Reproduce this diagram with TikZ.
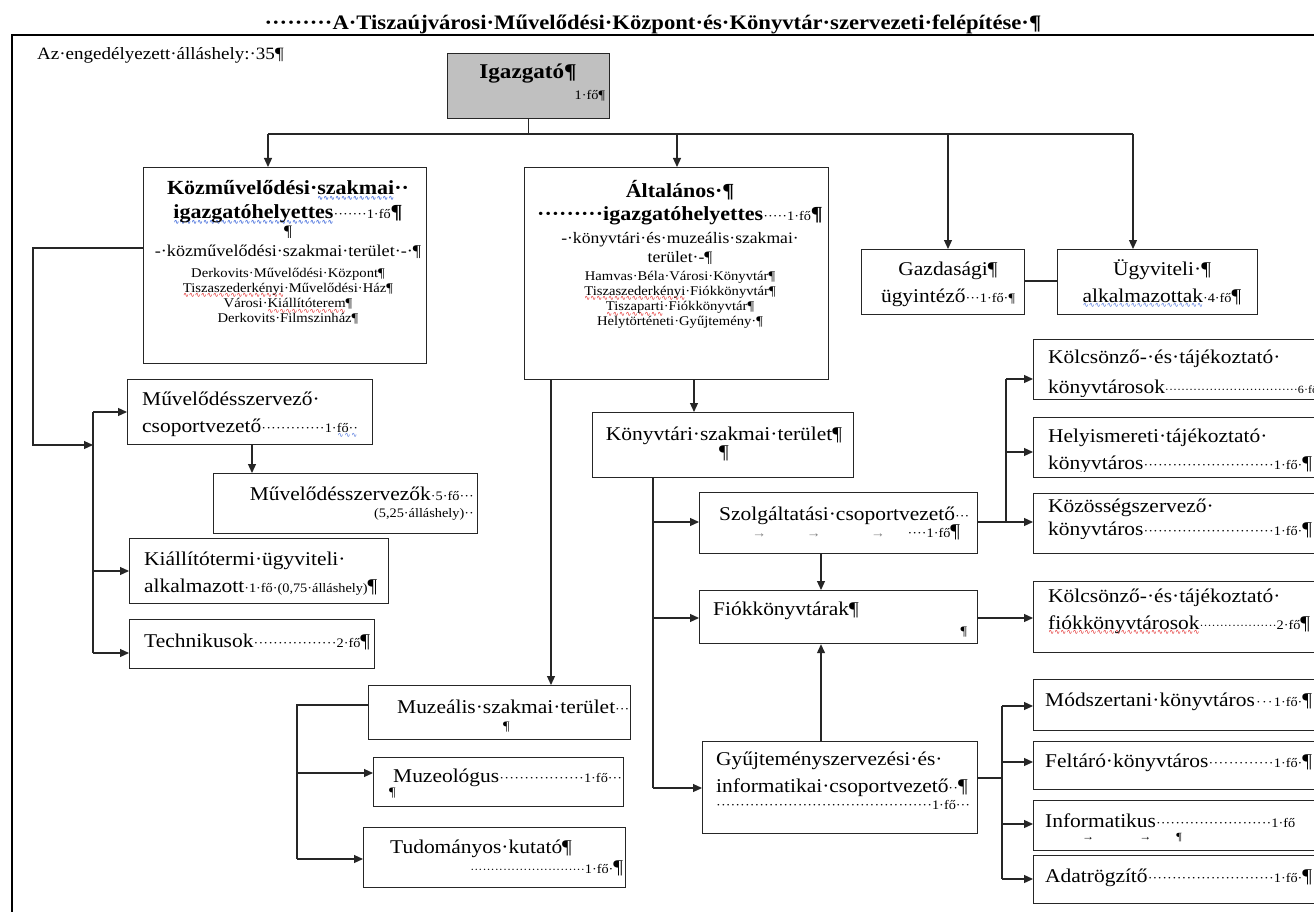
\documentclass[tikz,border=0pt]{standalone}
\usepackage{fontspec}
\setmainfont{Liberation Serif}[FakeStretch=1.1]
\newfontfamily\wavefont{DejaVu Sans}
\usetikzlibrary{arrows.meta}
\setlength\parindent{0pt}
\definecolor{wblue}{RGB}{70,110,220}
\definecolor{wred}{RGB}{225,30,30}
\definecolor{boxgray}{RGB}{192,192,192}
\newcommand\wv[2]{\leavevmode\setbox0\hbox{#2}\rlap{\smash{\lower5.5pt\hbox to\wd0{\color{#1}\wavefont\fontsize{7}{7}\selectfont\xleaders\hbox{∿}\hfil}}}\box0}
\newcommand\fTitle{\fontsize{20.6}{26}\selectfont\bfseries}
\newcommand\fHead{\fontsize{20}{24}\selectfont\bfseries}
\newcommand\fBody{\fontsize{19.5}{27}\selectfont}
\newcommand\fNote{\fontsize{17.3}{20}\selectfont}
\newcommand\fList{\fontsize{13.3}{15.3}\selectfont}
\newcommand\fSm{\fontsize{13}{17}\selectfont}
\newcommand\fTiny{\fontsize{11}{13}\selectfont}
\newcommand\dotlead{\leavevmode\xleaders\hbox{\fSm·}\hfill}
\newcommand\tinylead{\leavevmode\xleaders\hbox{\fTiny·}\hfill}
\begin{document}
\begin{tikzpicture}[x=1pt,y=-1pt,
  box/.style={draw=black!85, line width=1.2pt, inner sep=0pt, anchor=north west},
  tc/.style={inner sep=0pt, anchor=base, align=center, font=\fBody},
  tl/.style={inner sep=0pt, anchor=base west, align=left, font=\fBody},
  tr/.style={inner sep=0pt, anchor=base east, align=right, font=\fBody},
  ln/.style={line width=1.2pt, draw=black!85},
  arr/.style={ln, -{Triangle[length=9pt,width=8pt]}}]
\useasboundingbox (0,0) rectangle (1314,912);
\clip (0,0) rectangle (1314,912);
\fill[white] (0,0) rectangle (1314,912);

% frame and title
\coordinate (frBL) at (12,930);
\coordinate (frTL) at (12,35);
\coordinate (frTR) at (1330,35);
\draw[line width=1.5pt] (frBL) -- (frTL) -- (frTR);
\node[anchor=base, inner sep=0pt, font=\fTitle] (title) at (653,30) {·········A·Tiszaújvárosi·Művelődési·Központ·és·Könyvtár·szervezeti·felépítése·¶};
\node[tl, font=\fNote] (note) at (37,60) {Az·engedélyezett·álláshely:·35¶};

% boxes
\node[box, fill=boxgray, minimum width=162pt, minimum height=65pt] (igaz) at (447,53) {};
\node[box, minimum width=283pt, minimum height=196pt] (kozm) at (143,167) {};
\node[box, minimum width=304pt, minimum height=212pt] (alt) at (524,167) {};
\node[box, minimum width=163pt, minimum height=65pt] (gazd) at (861,249) {};
\node[box, minimum width=200pt, minimum height=65pt] (ugyv) at (1057,249) {};
\node[box, minimum width=245pt, minimum height=65pt] (mszcs) at (127,379) {};
\node[box, minimum width=264pt, minimum height=60pt] (msz) at (213,473) {};
\node[box, minimum width=259pt, minimum height=65pt] (kiall) at (129,538) {};
\node[box, minimum width=245pt, minimum height=49pt] (tech) at (129,619) {};
\node[box, minimum width=261pt, minimum height=65pt] (kszt) at (592,412) {};
\node[box, minimum width=278pt, minimum height=61pt] (szolg) at (699,492) {};
\node[box, minimum width=278pt, minimum height=53pt] (fiok) at (699,590) {};
\node[box, minimum width=287pt, minimum height=60pt] (kolcs) at (1033,339) {};
\node[box, minimum width=287pt, minimum height=60pt] (helyi) at (1033,417) {};
\node[box, minimum width=287pt, minimum height=60pt] (kozos) at (1033,493) {};
\node[box, minimum width=287pt, minimum height=71pt] (kfiok) at (1033,581) {};
\node[box, minimum width=262pt, minimum height=54pt] (muz) at (368,685) {};
\node[box, minimum width=250pt, minimum height=49pt] (muzeo) at (373,757) {};
\node[box, minimum width=262pt, minimum height=60pt] (tud) at (363,827) {};
\node[box, minimum width=275pt, minimum height=92pt] (gyuj) at (702,741) {};
\node[box, minimum width=287pt, minimum height=51pt] (modsz) at (1033,679) {};
\node[box, minimum width=287pt, minimum height=48pt] (feltar) at (1033,741) {};
\node[box, minimum width=287pt, minimum height=50pt] (inform) at (1033,800) {};
\node[box, minimum width=287pt, minimum height=48pt] (adat) at (1033,855) {};

% texts
\node[tc, text width=154pt, font=\fHead] (igazT) at (528,79) {\fontsize{21}{24}\selectfont Igazgató¶\\[-3pt] \hfill{\mdseries\fSm 1·fő¶}};
\node[tc, text width=270pt, font=\fHead] (kozmT) at (288,195) {Közművelődési·\wv{wblue}{szakmai}··\\ \wv{wblue}{igazgatóhelyettes}{\mdseries\fSm ·······1·fő}¶\\ \mdseries\fontsize{16}{18}\selectfont ¶\\ \fontsize{16.5}{20}\selectfont -·közművelődési·szakmai·terület·-·¶\par};
\node[tc, text width=270pt, font=\fList] (kozmL) at (288,277) {Derkovits·Művelődési·Központ¶\\ \wv{wred}{Tiszaszederkényi}·Művelődési·Ház¶\\ Városi·\wv{wred}{Kiállítóterem}¶\\ Derkovits·Filmszinház¶\par};
\node[tc, text width=300pt, font=\fHead] (altT) at (680,197) {Általános·¶\\[-1pt] ·········igazgatóhelyettes{\mdseries\fSm ·····1·fő}¶\\ \mdseries\fontsize{16}{23}\selectfont -·könyvtári·és·muzeális·szakmai·\\ \fontsize{16}{19}\selectfont terület·-¶\par};
\node[tc, text width=300pt, font=\fList] (altL) at (680,280) {Hamvas·Béla·Városi·Könyvtár¶\\ \wv{wred}{Tiszaszederkényi}·Fiókkönyvtár¶\\ \wv{wred}{Tiszaparti}·Fiókkönyvtár¶\\ Helytörténeti·Gyűjtemény·¶\par};
\node[tc, text width=160pt] (gazdT) at (948,275) {Gazdasági¶\\ ügyintéző{\fSm···1·fő·¶}};
\node[tc, text width=196pt] (ugyvT) at (1162,275) {Ügyviteli·¶\\ \wv{wblue}{alkalmazottak}{\fSm·4·fő}¶};
\node[tl, text width=216pt] (mszcsT) at (142,405) {Művelődésszervező·\\ csoportvezető\dotlead{\fSm 1·\wv{wblue}{fő··}}};
\node[tr, text width=230pt] (mszT) at (474,500) {Művelődésszervezők{\fSm·5·fő···}\\ \fSm (5,25·álláshely)··\par};
\node[tl, text width=250pt] (kiallT) at (144,565) {Kiállítótermi·ügyviteli·\\ alkalmazott{\fSm·1·fő·(0,75·álláshely)}¶};
\node[tl, text width=226pt] (techT) at (144,647) {Technikusok\dotlead{\fSm 2·fő}¶};
\node[tc, text width=250pt] (ksztT) at (724,440) {Könyvtári·szakmai·terület¶\\[-9pt] ¶};
\node[tl, text width=253pt] (szolgT) at (719,520) {Szolgáltatási·csoportvezető{\fSm···}\\ \fSm\hspace*{33pt}{\color{gray}→}\hspace{40pt}{\color{gray}→}\hspace{50pt}{\color{gray}→}\hfill····1·fő{\fBody ¶}\kern12pt\par};
\node[tl, text width=254pt] (fiokT) at (713,615) {Fiókkönyvtárak¶\\[-7pt] \hfill{\fSm ¶}};
\begin{scope}
\clip (1033,339) rectangle (1320,396);
\node[tl, text width=282pt] (kolcsT) at (1048,363) {Kölcsönző-·és·tájékoztató·\\[3pt] könyvtárosok\tinylead{\fTiny 6·fő···}};
\end{scope}
\begin{scope}
\clip (1033,417) rectangle (1320,471);
\node[tl, text width=264pt] (helyiT) at (1048,442) {Helyismereti·tájékoztató·\\ könyvtáros\dotlead{\fSm 1·fő·}¶};
\end{scope}
\begin{scope}
\clip (1033,493) rectangle (1320,538);
\node[tl, text width=264pt] (kozosT) at (1048,512) {Közösségszervező·\\[-4pt] könyvtáros\dotlead{\fSm 1·fő·}¶};
\end{scope}
\begin{scope}
\clip (1033,581) rectangle (1320,636);
\node[tl, text width=262pt] (kfiokT) at (1048,602) {Kölcsönző-·és·tájékoztató·\\ \wv{wred}{fiókkönyvtárosok}{\fTiny·}\tinylead{\fSm 2·fő}¶};
\end{scope}
\node[tl, text width=231pt] (muzT) at (397,713) {Muzeális·szakmai·terület{\fSm···}\\[-10pt] \hspace*{106pt}{\fSm ¶}};
\node[tl, text width=229pt] (muzeoT) at (393,782) {Muzeológus\dotlead{\fSm 1·fő···}\\[-13pt] \hspace*{-4pt}{\fSm ¶}};
\node[tl, text width=233pt] (tudT) at (390,853) {Tudományos·kutató¶\\[-7pt] \hspace*{80pt}\tinylead{\fSm 1·fő·}¶};
\node[tl, text width=254pt] (gyujT) at (716,765) {Gyűjteményszervezési·és·\\ informatikai·csoportvezető{\fSm··}¶\\ \fSm\dotlead 1·fő···\par};
\node[tl, text width=267pt] (modszT) at (1045,706) {Módszertani·könyvtáros\dotlead{\fSm 1·fő·}¶};
\node[tl, text width=267pt] (feltarT) at (1045,767) {Feltáró·könyvtáros\dotlead{\fSm 1·fő·}¶};
\node[tl, text width=250pt] (informT) at (1045,827) {Informatikus\dotlead{\fSm 1·fő}\\ \fTiny\hspace*{37pt}→\hspace{45pt}→\hspace{25pt}¶\par};
\node[tl, text width=267pt] (adatT) at (1045,882) {Adatrögzítő\dotlead{\fSm 1·fő·}¶};

% connectors from Igazgató
\coordinate (busL) at (268,134);
\coordinate (busA) at (677,134);
\coordinate (busG) at (948,134);
\coordinate (busR) at (1133,134);
\draw[ln] (igaz.south) -- (igaz.south |- busL);
\draw[ln] (busL) -- (busR);
\draw[arr] (busL) -- (busL |- kozm.north);
\draw[arr] (busA) -- (busA |- alt.north);
\draw[arr] (busG) -- (busG |- gazd.north);
\draw[arr] (busR) -- (busR |- ugyv.north);
\coordinate (gu) at (1040,281);
\draw[ln] (gazd.east |- gu) -- (ugyv.west |- gu);

% left branch
\coordinate (kL1) at (33,248);
\coordinate (kL2) at (33,445);
\coordinate (lbM) at (93,445);
\coordinate (lbT) at (93,412);
\coordinate (lbK) at (93,571);
\coordinate (lbB) at (93,653);
\draw[arr] (kozm.west |- kL1) -- (kL1) -- (kL2) -- (lbM);
\draw[ln] (lbT) -- (lbB);
\draw[arr] (lbT) -- (lbT -| mszcs.west);
\draw[arr] (lbK) -- (lbK -| kiall.west);
\draw[arr] (lbB) -- (lbB -| tech.west);
\coordinate (mm) at (252,460);
\draw[arr] (mm |- mszcs.south) -- (mm |- msz.north);

% Általános branches
\coordinate (am) at (551,500);
\coordinate (ak) at (694,400);
\draw[arr] (am |- alt.south) -- (am |- muz.north);
\draw[arr] (ak |- alt.south) -- (ak |- kszt.north);
\coordinate (kb) at (653,788);
\coordinate (kbS) at (653,522);
\coordinate (kbF) at (653,618);
\draw[ln] (kb |- kszt.south) -- (kb);
\draw[arr] (kbS) -- (kbS -| szolg.west);
\draw[arr] (kbF) -- (kbF -| fiok.west);
\draw[arr] (kb) -- (kb -| gyuj.west);
\coordinate (fx) at (821,600);
\draw[arr] (fx |- szolg.south) -- (fx |- fiok.north);
\draw[arr] (fx |- gyuj.north) -- (fx |- fiok.south);

% right bus of Szolgáltatási
\coordinate (rs1) at (1006,379);
\coordinate (rs2) at (1006,452);
\coordinate (rs3) at (1006,522);
\draw[ln] (szolg.east |- rs3) -- (rs3);
\draw[ln] (rs1) -- (rs3);
\draw[arr] (rs1) -- (rs1 -| kolcs.west);
\draw[arr] (rs2) -- (rs2 -| helyi.west);
\draw[arr] (rs3) -- (rs3 -| kozos.west);
\coordinate (ff) at (1000,618);
\draw[arr] (fiok.east |- ff) -- (kfiok.west |- ff);

% right bus of Gyűjtemény
\coordinate (rg0) at (1002,778);
\coordinate (rg1) at (1002,706);
\coordinate (rg2) at (1002,762);
\coordinate (rg3) at (1002,824);
\coordinate (rg4) at (1002,879);
\draw[ln] (gyuj.east |- rg0) -- (rg0);
\draw[ln] (rg1) -- (rg4);
\draw[arr] (rg1) -- (rg1 -| modsz.west);
\draw[arr] (rg2) -- (rg2 -| feltar.west);
\draw[arr] (rg3) -- (rg3 -| inform.west);
\draw[arr] (rg4) -- (rg4 -| adat.west);

% Muzeális branch
\coordinate (mz0) at (297,705);
\coordinate (mz1) at (297,773);
\coordinate (mz2) at (297,859);
\draw[ln] (muz.west |- mz0) -- (mz0) -- (mz2);
\draw[arr] (mz1) -- (mz1 -| muzeo.west);
\draw[arr] (mz2) -- (mz2 -| tud.west);
\end{tikzpicture}
\end{document}
